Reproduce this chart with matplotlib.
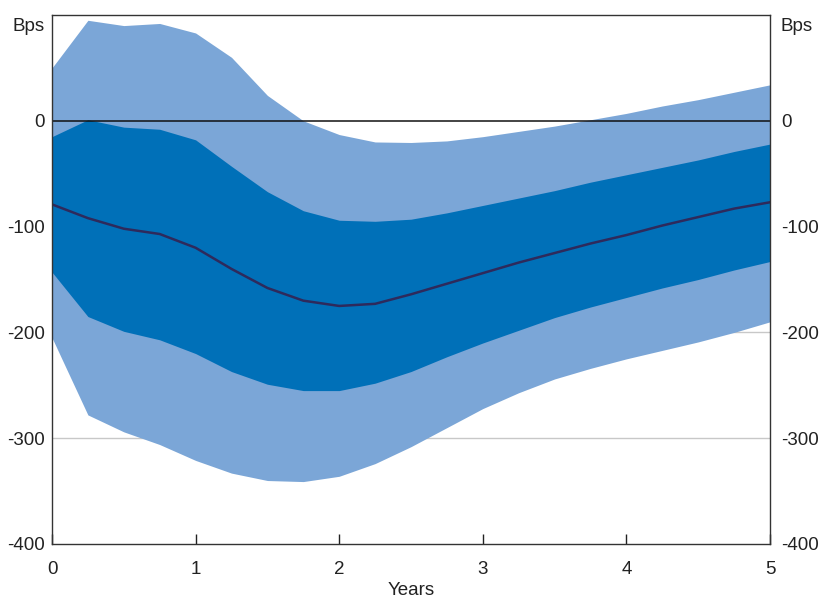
import matplotlib
matplotlib.use("Agg")
import matplotlib.pyplot as plt
import matplotlib.transforms as mtransforms
import numpy as np

plt.rcParams['font.family'] = ['Liberation Sans', 'DejaVu Sans']
plt.rcParams['axes.unicode_minus'] = False

# Horizon in years (quarterly)
years = np.arange(0, 5.01, 0.25)

# Bands and central projection, in basis points
outer_upper = [50, 95, 90, 92, 83, 60, 24, 0, -13, -20, -20.5, -19, -15, -10,
               -5, 1, 7, 14, 20, 27, 34]
inner_upper = [-15, 1, -6, -8, -18, -43, -67, -85, -94, -95, -93, -87, -80, -73,
               -66, -58, -51, -44, -37, -29, -22]
median = [-79, -92, -102, -107, -120, -140, -158, -170, -175, -173, -164, -154,
          -144, -134, -125, -116, -108, -99, -91, -83, -77]
inner_lower = [-143, -185, -199, -207, -220, -237, -249, -255, -255, -248, -237,
               -223, -210, -198, -186, -176, -167, -158, -150, -141, -133]
outer_lower = [-205, -278, -294, -306, -321, -333, -340, -341, -336, -324, -308,
               -290, -272, -257, -244, -234, -225, -217, -209, -200, -190]

light_blue = '#7ba6d7'
dark_blue = '#0070b8'
navy = '#2e2a5c'
fs = 13.5

fig = plt.figure(figsize=(8.22, 5.99), dpi=100)
ax = fig.add_axes([52/822, 55/599, 718/822, 529/599])

# grid lines behind the fan
for yv in [-100, -200, -300]:
    ax.axhline(yv, color='#c8c8c8', lw=1, zorder=0)

ax.fill_between(years, outer_lower, outer_upper, color=light_blue, lw=0, zorder=1)
ax.fill_between(years, inner_lower, inner_upper, color=dark_blue, lw=0, zorder=2)
ax.plot(years, median, color=navy, lw=1.8, zorder=3)
ax.axhline(0, color='#111111', lw=1.1, zorder=4)

ax.set_xlim(0, 5)
ax.set_ylim(-400, 100)
ax.set_xticks([0, 1, 2, 3, 4, 5])
ax.set_yticks([-400, -300, -200, -100, 0])
ax.tick_params(axis='x', direction='in', length=7, width=1, pad=12,
               labelsize=fs, colors='#222222')
ax.tick_params(axis='y', length=0, pad=5, labelsize=fs, colors='#222222')
ax.set_xlabel('Years', fontsize=fs, color='#222222', labelpad=3)

for s in ax.spines.values():
    s.set_color('#333333')
    s.set_linewidth(1)
    s.set_zorder(5)

# right-hand axis labels
ax2 = ax.twinx()
ax2.set_ylim(ax.get_ylim())
ax2.set_yticks([-400, -300, -200, -100, 0])
ax2.tick_params(axis='y', length=0, pad=8, labelsize=fs, colors='#222222')
for s in ax2.spines.values():
    s.set_visible(False)

# units labels
tl = mtransforms.blended_transform_factory(ax.transAxes, ax.transData)
ax.text(-7/718, 89, 'Bps', transform=tl, ha='right', va='center',
        fontsize=fs, color='#222222')
ax.text(1 + 10/718, 89, 'Bps', transform=tl, ha='left', va='center',
        fontsize=fs, color='#222222')

fig.savefig('out.png', dpi=100)
